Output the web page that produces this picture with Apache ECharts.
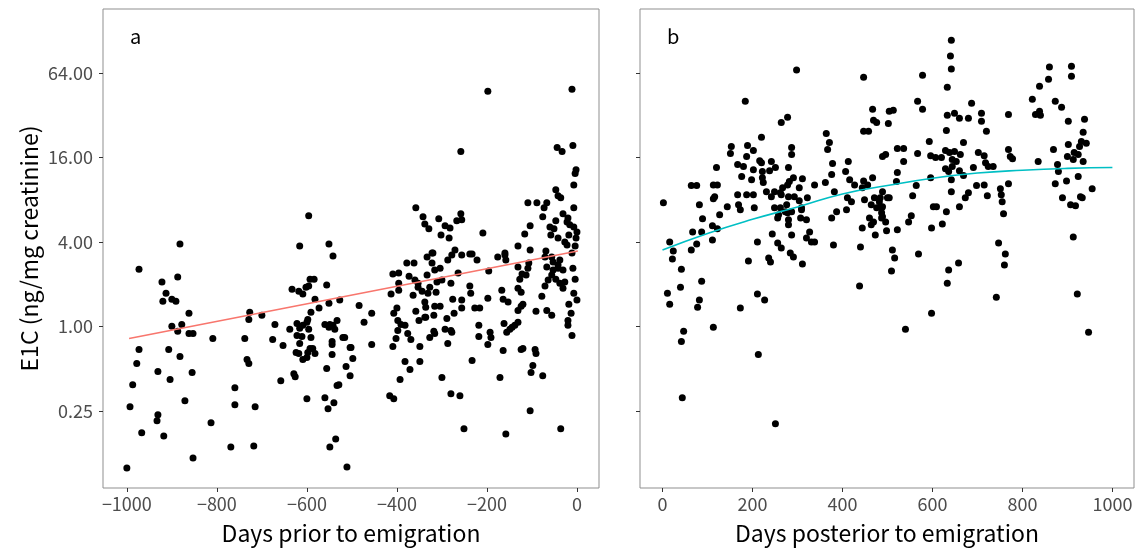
<!DOCTYPE html>
<html>
<head>
<meta charset="utf-8">
<script src="https://cdn.jsdelivr.net/npm/echarts@6/dist/echarts.min.js"></script>
<style>
html,body{margin:0;padding:0;background:#fff;}
#chart{width:1140px;height:554px;}
</style>
</head>
<body>
<div id="chart"></div>
<script>
// ---- data ----
// Panel a: days prior to emigration, E1C (ng/mg creatinine)
const priorDays = [-882,-596,-616,-551,-542,-973,-922,-887,-913,-920,-900,-891,-862,-900,-878,-887,-862,-853,-973,-978,-907,-882,-931,-987,-904,-855,-993,-871,-931,-933,-967,-918,-853,-1000,-809,-813,-769,-760,-760,-715,-718,-738,-729,-727,-733,-729,-700,-671,-676,-653,-658,-629,-626,-633,-618,-609,-602,-593,-584,-596,-556,-582,-591,-573,-622,-638,-616,-609,-600,-598,-596,-611,-622,-616,-624,-618,-609,-600,-591,-593,-587,-582,-598,-551,-560,-551,-542,-533,-549,-538,-520,-544,-544,-544,-556,-504,-513,-504,-529,-533,-560,-540,-553,-536,-549,-511,-600,-516,-502,-498,-484,-473,-456,-456,-409,-396,-413,-396,-396,-400,-407,-398,-391,-398,-382,-376,-369,-402,-409,-382,-371,-349,-349,-358,-351,-336,-393,-416,-407,-378,-362,-373,-360,-353,-364,-344,-353,-333,-320,-322,-333,-316,-304,-300,-311,-327,-331,-313,-338,-336,-316,-304,-318,-338,-327,-316,-318,-289,-293,-280,-278,-287,-273,-276,-256,-256,-233,-222,-238,-236,-280,-264,-287,-278,-256,-300,-280,-260,-251,-227,-216,-218,-218,-233,-198,-196,-193,-191,-198,-176,-160,-158,-167,-164,-153,-162,-164,-156,-144,-138,-131,-149,-171,-158,-131,-127,-122,-113,-109,-107,-131,-124,-131,-124,-120,-124,-120,-93,-91,-98,-102,-104,-76,-91,-78,-67,-56,-71,-64,-56,-47,-38,-31,-27,-53,-42,-67,-71,-53,-42,-31,-11,-9,-4,-7,0,-18,-13,-20,-20,-11,-36,-198,-11,-258,-44,-33,-9,-2,-4,-7,-47,-42,-36,-358,-342,-338,-329,-307,-293,-282,-302,-284,-258,-267,-256,-209,-109,-89,-67,-73,-104,-116,-131,-76,-47,-31,-20,-7,-7,-16,-22,-58,-51,-42,-27,-18,-4,-2,-104,-69,-160,-322,-271,-238,0,-22,-60,-56,-38,-527];
const priorE1C = [3.87,6.14,3.74,3.87,3.17,2.56,2.07,2.25,1.72,1.51,1.56,1.51,1.24,1.00,1.03,0.921,0.891,0.891,0.684,0.543,0.684,0.609,0.476,0.384,0.417,0.468,0.267,0.295,0.234,0.212,0.174,0.165,0.115,0.0976,0.820,0.205,0.138,0.365,0.276,0.267,0.140,0.820,1.12,1.26,0.580,0.543,1.20,1.03,0.807,0.731,0.410,0.460,0.438,1.84,1.78,1.70,1.90,2.17,2.17,1.94,1.97,1.56,1.26,1.35,1.05,0.952,0.968,1.02,1.07,1.12,0.952,0.848,0.862,0.755,0.651,0.640,0.580,0.600,0.834,0.696,0.696,0.640,0.651,1.46,1.03,0.984,1.02,1.10,1.03,0.952,0.834,0.781,0.743,0.630,0.500,0.707,0.517,0.445,0.384,0.378,0.310,0.285,0.258,0.157,0.138,0.0992,0.305,0.834,0.707,0.590,1.41,1.07,1.24,0.743,2.36,2.40,1.70,2.03,1.81,1.35,1.24,1.10,1.03,0.936,1.02,0.891,0.807,0.820,0.719,0.561,0.492,0.561,0.719,1.28,1.10,1.16,0.417,0.320,0.305,2.83,2.83,2.28,2.14,2.03,1.67,1.78,1.90,3.12,3.34,2.83,2.32,2.52,2.60,2.14,2.07,1.90,1.72,1.75,1.49,1.37,1.39,1.39,1.20,1.16,0.834,0.891,0.921,1.14,0.952,0.936,0.906,0.755,1.24,1.56,1.54,1.35,3.28,2.97,1.94,1.72,2.03,2.40,2.97,3.23,3.23,0.431,0.331,0.320,0.186,1.35,1.35,1.02,0.848,0.571,1.59,2.48,0.906,0.834,0.743,3.12,3.23,2.97,1.81,1.56,1.49,1.05,0.673,0.906,0.984,1.02,1.07,0.952,0.431,0.171,1.87,2.17,2.36,2.32,2.60,2.83,2.65,1.75,1.30,1.39,1.44,0.684,0.696,0.684,0.640,0.525,0.468,0.250,0.445,1.28,1.64,1.30,1.20,1.94,2.14,2.32,2.17,2.03,1.87,2.07,2.52,2.60,2.65,3.12,2.88,2.74,2.52,3.34,2.60,2.17,1.72,1.54,1.44,1.24,1.10,1.02,0.862,0.186,47.6,49.1,17.7,18.9,17.7,19.5,13.1,12.3,10.2,9.44,8.55,8.27,7.01,6.04,5.38,4.96,5.85,5.21,5.04,4.49,4.27,6.35,5.66,5.75,4.64,7.61,7.61,7.61,7.01,5.21,4.56,3.74,6.04,5.66,6.35,5.94,7.01,5.12,5.30,5.56,4.49,4.96,4.27,4.00,4.49,3.74,4.27,3.51,3.45,3.34,3.34,3.51,3.28,4.72,3.81,5.12,3.12,2.97,1.54];

// Panel b: days posterior to emigration, E1C (ng/mg creatinine)
const postDays = [2,298,184,264,278,220,364,371,367,447,467,469,476,447,458,153,151,189,202,187,167,180,176,198,202,216,220,222,238,251,242,222,224,231,242,249,262,267,278,282,280,287,287,291,304,293,280,264,276,262,249,311,338,322,304,309,287,273,258,280,120,113,122,116,113,144,127,169,173,187,202,204,167,64,76,82,89,67,87,111,122,111,76,64,16,24,278,280,287,307,320,309,256,244,256,264,211,320,327,331,338,362,376,378,382,376,387,380,411,409,413,407,416,427,420,447,444,467,456,449,471,482,464,476,487,487,460,444,464,469,473,487,440,489,489,642,640,642,633,578,567,578,504,513,502,687,633,649,660,680,709,709,720,769,860,858,838,822,873,887,829,838,840,909,909,902,938,935,931,942,927,902,915,924,913,900,935,869,835,878,880,873,898,924,955,889,929,933,907,918,913,631,593,567,596,607,620,629,638,649,644,653,629,636,642,662,669,660,669,644,702,715,718,724,735,691,769,773,778,769,522,536,496,536,522,520,564,556,596,602,609,631,622,598,642,660,673,680,698,715,722,751,753,755,758,747,484,500,504,489,489,496,498,522,547,553,511,569,762,22,42,87,11,16,40,82,78,47,42,113,44,173,191,236,240,211,227,213,251,284,291,311,438,516,509,636,633,658,598,540,760,742,922,947];
const postE1C = [7.61,67.3,40.3,28.5,31.0,22.3,23.8,20.5,18.3,59.9,35.3,29.5,28.5,24.6,24.6,19.2,17.1,19.5,18.0,16.3,14.3,13.8,11.7,11.1,13.1,15.2,14.7,12.7,12.9,13.6,15.0,11.5,10.6,9.13,8.41,9.13,8.98,9.75,10.2,10.8,13.6,18.9,16.8,11.5,9.75,8.41,8.41,8.69,7.37,7.01,7.01,11.3,10.2,8.27,7.87,7.01,6.56,6.56,6.25,5.75,13.6,10.2,10.2,8.41,8.13,7.13,6.25,7.37,6.78,8.69,8.69,7.01,8.69,10.1,10.1,7.37,5.85,4.72,4.72,5.21,4.96,4.13,3.87,3.51,4.00,3.45,6.46,5.30,4.49,5.94,5.75,6.78,5.94,4.56,3.93,3.62,4.00,4.27,4.72,4.00,4.00,10.6,12.1,14.5,9.13,5.94,6.56,3.81,8.27,6.78,15.0,12.7,11.1,10.2,7.74,10.9,9.75,11.5,10.2,8.00,8.27,7.74,7.37,7.01,7.01,6.46,5.94,5.04,5.30,5.56,4.49,5.94,3.68,9.13,16.3,110,84.7,68.4,50.8,61.9,40.3,35.3,34.2,34.8,28.0,39.0,32.0,33.1,30.5,30.5,33.1,29.0,24.6,32.5,70.7,58.0,51.6,41.7,40.3,36.5,32.5,34.2,32.0,71.8,60.9,29.0,30.0,24.2,20.8,20.2,19.2,19.8,17.4,16.8,15.5,16.3,15.0,18.3,15.0,14.3,12.7,10.4,10.9,11.7,9.59,8.27,8.41,8.27,7.37,7.25,4.34,25.0,20.8,17.1,16.5,16.0,16.0,18.0,17.4,17.7,15.5,15.0,13.3,12.7,11.1,16.8,20.5,12.9,11.9,13.8,17.4,16.5,14.7,13.8,13.8,13.6,18.3,16.3,15.7,10.4,18.6,18.6,16.8,15.0,12.5,10.8,10.1,8.55,11.5,7.13,7.13,6.56,5.38,5.04,9.13,7.13,8.27,8.98,10.1,10.2,8.55,9.59,8.69,7.74,6.35,3.93,8.27,8.27,8.27,7.13,6.04,5.56,4.80,4.88,5.56,6.14,3.51,3.28,3.28,3.02,2.56,2.10,1.72,1.44,1.90,1.54,1.37,0.921,0.781,0.984,0.310,1.35,2.92,3.07,2.88,1.70,1.54,0.630,0.202,3.34,3.12,2.78,1.94,3.07,2.48,2.52,2.03,2.83,1.24,0.952,2.74,1.61,1.70,0.906];

// fitted lines
const fitPriorDays = [-995, 2];
const fitPriorE1C = [0.82, 3.45];
const fitPostDays = [0, 100, 200, 300, 400, 500, 600, 700, 800, 900, 1000];
const fitPostE1C = [3.5, 4.6, 5.8, 7.1, 8.8, 10.1, 11.4, 12.4, 13.0, 13.4, 13.6];

// ticks
const yTickValues = [0.25, 1, 4, 16, 64];
const xTicksPrior = [-1000, -800, -600, -400, -200, 0];
const xTicksPost = [0, 200, 400, 600, 800, 1000];

// ---- build ----
const L = v => Math.log2(v);
const pairs = (xs, ys) => xs.map((x, i) => [x, L(ys[i])]);
const yTicksLog = yTickValues.map(L);
const FONT = '"Noto Sans CJK JP", "Noto Sans", sans-serif';
const fmtX = v => (v < 0 ? '\u2212' + Math.abs(v) : String(v));
const fmtY = v => Math.pow(2, v).toFixed(2);

const yBase = {
  type: 'value', min: -3.83, max: 7.52,
  splitLine: { show: false },
  axisLine: { show: false, onZero: false },
  axisTick: { show: true, length: 4, customValues: yTicksLog, lineStyle: { color: '#333', width: 1 } }
};
const xBase = {
  type: 'value',
  splitLine: { show: false },
  axisLine: { show: false, onZero: false },
  nameLocation: 'middle',
  nameGap: 34,
  nameTextStyle: { fontFamily: FONT, fontSize: 23, color: '#000' }
};
const tickLabel = { fontFamily: FONT, fontSize: 18, color: '#4d4d4d' };

const chart = echarts.init(document.getElementById('chart'), null, { renderer: 'canvas' });
chart.setOption({
  animation: false,
  backgroundColor: '#fff',
  title: [
    { text: 'a', left: 125, top: 21, textStyle: { fontFamily: FONT, fontSize: 20, fontWeight: 'normal', color: '#000' } },
    { text: 'b', left: 662, top: 21, textStyle: { fontFamily: FONT, fontSize: 20, fontWeight: 'normal', color: '#000' } }
  ],
  grid: [
    { left: 103, top: 9, width: 496, height: 479, show: true, borderColor: '#8f8f8f', borderWidth: 1, backgroundColor: '#fff' },
    { left: 640, top: 9, width: 494, height: 479, show: true, borderColor: '#8f8f8f', borderWidth: 1, backgroundColor: '#fff' }
  ],
  xAxis: [
    Object.assign({}, xBase, {
      gridIndex: 0, min: -1053, max: 49, name: 'Days prior to emigration',
      axisTick: { show: true, length: 4, customValues: xTicksPrior, lineStyle: { color: '#333' } },
      axisLabel: Object.assign({ customValues: xTicksPrior, formatter: fmtX, margin: 7 }, tickLabel)
    }),
    Object.assign({}, xBase, {
      gridIndex: 1, min: -50, max: 1048, name: 'Days posterior to emigration',
      axisTick: { show: true, length: 4, customValues: xTicksPost, lineStyle: { color: '#333' } },
      axisLabel: Object.assign({ customValues: xTicksPost, formatter: fmtX, margin: 7 }, tickLabel)
    })
  ],
  yAxis: [
    Object.assign({}, yBase, {
      gridIndex: 0,
      name: 'E1C (ng/mg creatinine)', nameLocation: 'middle', nameGap: 62,
      nameTextStyle: { fontFamily: FONT, fontSize: 23, color: '#000' },
      axisLabel: Object.assign({ customValues: yTicksLog, formatter: fmtY, margin: 10 }, tickLabel)
    }),
    Object.assign({}, yBase, {
      gridIndex: 1,
      axisLabel: { show: false }
    })
  ],
  series: [
    { type: 'scatter', xAxisIndex: 0, yAxisIndex: 0, symbol: 'circle', symbolSize: 7,
      itemStyle: { color: '#000', opacity: 1 }, data: pairs(priorDays, priorE1C) },
    { type: 'line', xAxisIndex: 0, yAxisIndex: 0, symbol: 'none',
      lineStyle: { color: '#F8766D', width: 1.6 }, data: pairs(fitPriorDays, fitPriorE1C), z: 3 },
    { type: 'scatter', xAxisIndex: 1, yAxisIndex: 1, symbol: 'circle', symbolSize: 7,
      itemStyle: { color: '#000', opacity: 1 }, data: pairs(postDays, postE1C) },
    { type: 'line', xAxisIndex: 1, yAxisIndex: 1, symbol: 'none', smooth: true,
      lineStyle: { color: '#00BFC4', width: 1.6 }, data: pairs(fitPostDays, fitPostE1C), z: 3 }
  ]
});
</script>
</body>
</html>
